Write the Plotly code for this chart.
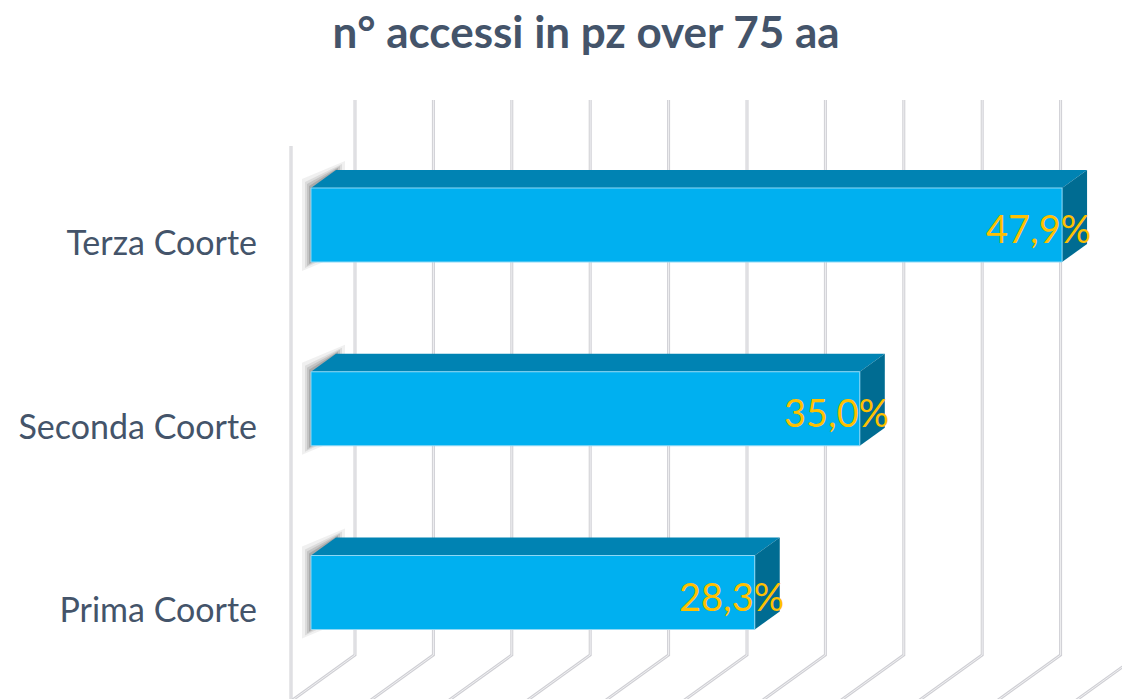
import plotly.graph_objects as go

# ---- data ----
categories = ["Prima Coorte", "Seconda Coorte", "Terza Coorte"]
values = [28.3, 35.0, 47.9]
value_labels = ["28,3%", "35,0%", "47,9%"]
grid_values = [0, 5, 10, 15, 20, 25, 30, 35, 40, 45, 50]
title_text = "n° accessi in pz over 75 aa"

# ---- style / projection constants ----
W, H = 1122, 699
ML = 264
PX_PER_UNIT_X = 15.68      # px per percent
PX_PER_UNIT_Y = 183.75     # px per category step
Y0_PX = 592.5              # px position of first category centre
X0_PX = 311                # px position of value 0 (front of bars)
SLOPE = 0.72               # oblique depth slope
DX = 1.0 / PX_PER_UNIT_X
DY = SLOPE / PX_PER_UNIT_Y
D_FRONT, D_BAR0, D_BAR1, D_BACK = -20, 0, 25, 44
HALF = 37 / PX_PER_UNIT_Y
FLOOR = (Y0_PX - 686.7) / PX_PER_UNIT_Y
CEIL = (Y0_PX - 131.7) / PX_PER_UNIT_Y

FRONT_C = "#00B0F0"
TOP_C = "#0083B3"
SIDE_C = "#006C92"
GRID_C = "#CFCFD4"
TEXT_C = "#44546A"
LABEL_C = "#FFC000"


def P(v, k, d):
    return v + d * DX, k + d * DY


def poly(pts, color, opacity=1.0, line_color=None, lw=0):
    xs = [p[0] for p in pts] + [pts[0][0]]
    ys = [p[1] for p in pts] + [pts[0][1]]
    return go.Scatter(x=xs, y=ys, mode="lines", fill="toself", fillcolor=color,
                      line=dict(color=line_color or color, width=lw), opacity=opacity,
                      hoverinfo="skip", showlegend=False)


fig = go.Figure()

# back wall gridlines + floor lines
gx, gy = [], []
for g in grid_values:
    a = P(g, CEIL, D_BACK); b = P(g, FLOOR, D_BACK); c = P(g, FLOOR, D_FRONT)
    gx += [a[0], b[0], c[0], None]
    gy += [a[1], b[1], c[1], None]
# left wall front edge
a = P(0, CEIL, D_FRONT); b = P(0, FLOOR - 0.2, D_FRONT)
gx += [a[0], b[0], None]
gy += [a[1], b[1], None]
fig.add_trace(go.Scatter(x=gx, y=gy, mode="lines", line=dict(color=GRID_C, width=3),
                         hoverinfo="skip", showlegend=False))
fig.add_trace(go.Scatter(x=gx, y=gy, mode="lines", line=dict(color="#F0F0F2", width=1),
                         hoverinfo="skip", showlegend=False))

# bars
for k, v in enumerate(values):
    # soft blurred shadow around the (hidden) left side face
    for grow, op in [(9, 0.07), (6, 0.10), (4, 0.14), (2, 0.18)]:
        gxp = grow * DX
        gyp = grow / PX_PER_UNIT_Y
        pts = [P(0, k - HALF, D_BAR0), P(0, k + HALF, D_BAR0),
               P(0, k + HALF, D_BAR1), P(0, k - HALF, D_BAR1)]
        pts = [(pts[0][0] - gxp, pts[0][1] - gyp), (pts[1][0] - gxp, pts[1][1] + gyp),
               (pts[2][0] + gxp, pts[2][1] + gyp), (pts[3][0] + gxp, pts[3][1] - gyp)]
        fig.add_trace(poly(pts, "#303030", opacity=op))
    top = [P(0, k + HALF, D_BAR0), P(v, k + HALF, D_BAR0),
           P(v, k + HALF, D_BAR1), P(0, k + HALF, D_BAR1)]
    side = [P(v, k - HALF, D_BAR0), P(v, k + HALF, D_BAR0),
            P(v, k + HALF, D_BAR1), P(v, k - HALF, D_BAR1)]
    front = [P(0, k - HALF, D_BAR0), P(v, k - HALF, D_BAR0),
             P(v, k + HALF, D_BAR0), P(0, k + HALF, D_BAR0)]
    fig.add_trace(poly(top, TOP_C))
    fig.add_trace(poly(side, SIDE_C))
    fig.add_trace(poly(front, FRONT_C, line_color="#8ED8F5", lw=1))

# data labels
for k, (v, lab) in enumerate(zip(values, value_labels)):
    x, y = P(v, k, 31)
    fig.add_annotation(x=x, y=k - 3 / PX_PER_UNIT_Y, text=lab, xref="x", yref="y",
                       xanchor="right", yanchor="middle", showarrow=False,
                       font=dict(family="Lato", size=38, color=LABEL_C))

fig.update_layout(
    width=W, height=H,
    margin=dict(l=ML, r=0, t=0, b=0),
    paper_bgcolor="white", plot_bgcolor="white",
    title=dict(text=title_text, x=586 / W, xanchor="center", y=1 - 33 / H,
               yanchor="middle", yref="container",
               font=dict(family="Lato", size=44, color=TEXT_C, weight="bold")),
    xaxis=dict(range=[(ML - X0_PX) / PX_PER_UNIT_X, (W - X0_PX) / PX_PER_UNIT_X],
               visible=False, fixedrange=True),
    yaxis=dict(range=[(Y0_PX - H) / PX_PER_UNIT_Y, Y0_PX / PX_PER_UNIT_Y],
               tickvals=[k - 18 / PX_PER_UNIT_Y for k in range(len(categories))],
               ticktext=categories, showgrid=False, zeroline=False, showline=False,
               ticks="", ticklabelstandoff=6,
               tickfont=dict(family="Lato", size=34, color=TEXT_C),
               fixedrange=True),
    showlegend=False,
)

fig.write_html("out.html", post_script="document.body.style.margin='0';",
               config={"displayModeBar": False})
